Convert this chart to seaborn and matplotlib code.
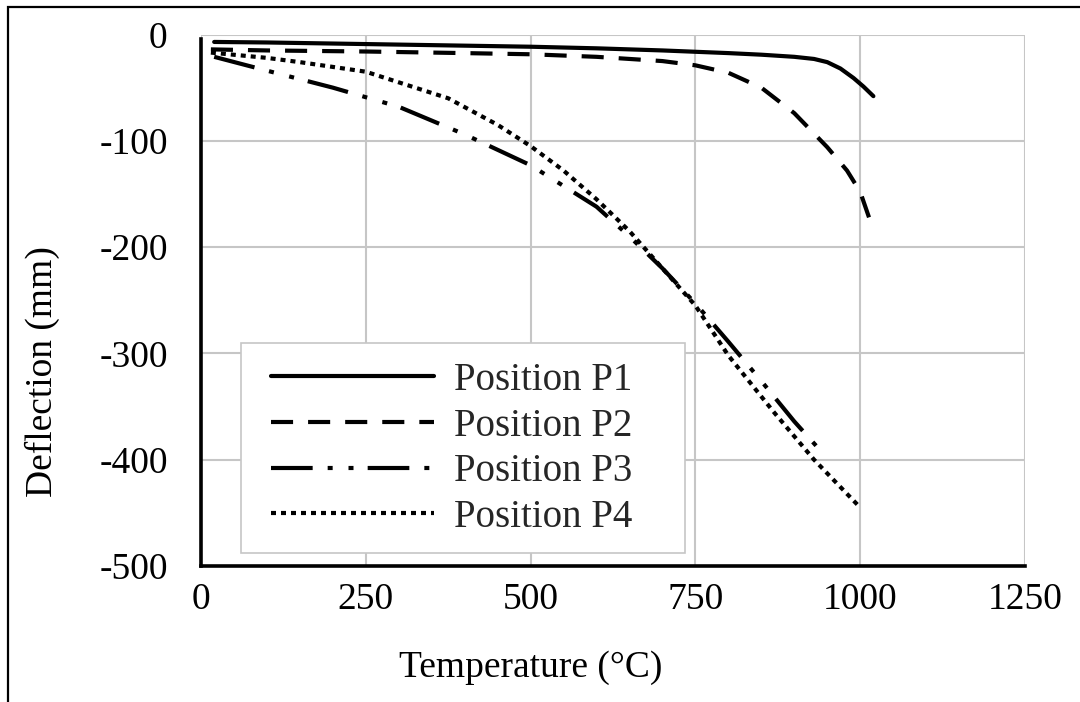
import matplotlib
matplotlib.use("Agg")
import matplotlib.pyplot as plt
from matplotlib.patches import Rectangle
import pandas as pd
import seaborn as sns

# Mid-span deflection measured at four positions during heating
temp_p1 = [20, 100, 200, 300, 400, 500, 600, 700, 800, 850, 900, 930, 950, 970, 990, 1005, 1020]
defl_p1 = [-7, -7.5, -8.5, -9.5, -10.5, -11.5, -13, -15, -17.5, -19, -21, -23, -26, -32, -41, -49, -58]

temp_p2 = [15, 100, 250, 400, 500, 600, 700, 750, 800, 850, 900, 950, 980, 1000, 1015]
defl_p2 = [-14, -15, -16, -17.5, -18.6, -21, -25, -29, -36, -50, -74, -106, -128, -148, -175]

temp_p3 = [20, 100, 200, 300, 400, 500, 600, 650, 700, 750, 800, 850, 900, 942]
defl_p3 = [-21, -34, -50, -68, -94, -123, -162, -190, -220, -253, -289, -326, -364, -393]

temp_p4 = [15, 100, 150, 250, 300, 375, 450, 500, 550, 600, 650, 700, 750, 800, 870, 930, 1000]
defl_p4 = [-17, -22, -26, -35, -45, -60, -85, -105, -128, -155, -185, -220, -255, -302, -356, -400, -445]

series_names = ["Position P1", "Position P2", "Position P3", "Position P4"]
x_ticks = [0, 250, 500, 750, 1000, 1250]
y_ticks = [0, -100, -200, -300, -400, -500]

frames = []
for name, t, d in zip(series_names,
                      [temp_p1, temp_p2, temp_p3, temp_p4],
                      [defl_p1, defl_p2, defl_p3, defl_p4]):
    frames.append(pd.DataFrame({"Temperature": t, "Deflection": d, "Series": name}))
df = pd.concat(frames, ignore_index=True)

sns.set_theme(style="white")
plt.rcParams["font.family"] = ["Liberation Serif", "DejaVu Serif"]

W, H = 1080, 702
fig = plt.figure(figsize=(W / 100, H / 100), dpi=100)
ax = fig.add_axes([201 / W, 1 - 566 / H, (1025 - 201) / W, (566 - 34.5) / H])

dash_styles = {
    "Position P1": "",
    "Position P2": (5.3, 3.6),
    "Position P3": (10, 3.6, 1.2, 3.8, 1.2, 3.4),
    "Position P4": (1.2, 1.2),
}

sns.lineplot(data=df, x="Temperature", y="Deflection", style="Series",
             dashes=dash_styles, color="black", linewidth=3,
             estimator=None, sort=False, ax=ax, legend=False)

ax.set_xlim(0, 1250)
ax.set_ylim(-500, 0)
ax.set_xticks(x_ticks)
ax.set_yticks(y_ticks)
ax.set_xticklabels([str(v) for v in x_ticks])
ax.set_yticklabels([str(v) for v in y_ticks])

ax.grid(True, color="#c6c6c6", linewidth=1.5)
ax.set_axisbelow(True)
for side in ["top", "right"]:
    ax.spines[side].set_visible(False)
for side in ["left", "bottom"]:
    ax.spines[side].set_color("black")
    ax.spines[side].set_linewidth(2.6)
ax.spines["left"].set_bounds(-500, -4.2)

ax.tick_params(axis="both", length=0, labelsize=27, colors="black")
ax.tick_params(axis="y", pad=24)
ax.tick_params(axis="x", pad=12)

ax.set_xlabel("Temperature (°C)", fontsize=27, color="black", va="center")
ax.set_ylabel("Deflection (mm)", fontsize=27, color="black", va="center")
ax.xaxis.set_label_coords((531 - 201) / (1025 - 201), -(668 - 566) / (566 - 34.5))
ax.yaxis.set_label_coords(-(201 - 42) / (1025 - 201), (566 - 372) / (566 - 34.5))

# Legend box with white fill, drawn over the grid
ax.add_patch(Rectangle((241 / W, 1 - 553 / H), (685 - 241) / W, (553 - 343) / H,
                       transform=fig.transFigure, facecolor="white",
                       edgecolor="#c6c6c6", linewidth=1.2, zorder=4, clip_on=False))

handles = ax.get_lines()[:4]
leg = ax.legend(handles=handles, labels=series_names, loc="upper left",
                bbox_to_anchor=(271 / W, 1 - 362 / H), bbox_transform=fig.transFigure,
                borderaxespad=0, borderpad=0, fontsize=28, handlelength=4.2,
                handletextpad=0.5, labelspacing=0.22, frameon=False)
leg.set_zorder(5)

# Outer chart frame
fig.add_artist(Rectangle((8 / W, -0.2), 1.3, 1.2 - 7 / H, transform=fig.transFigure,
                         fill=False, edgecolor="black", linewidth=1.6))

fig.savefig("out.png", dpi=100)
